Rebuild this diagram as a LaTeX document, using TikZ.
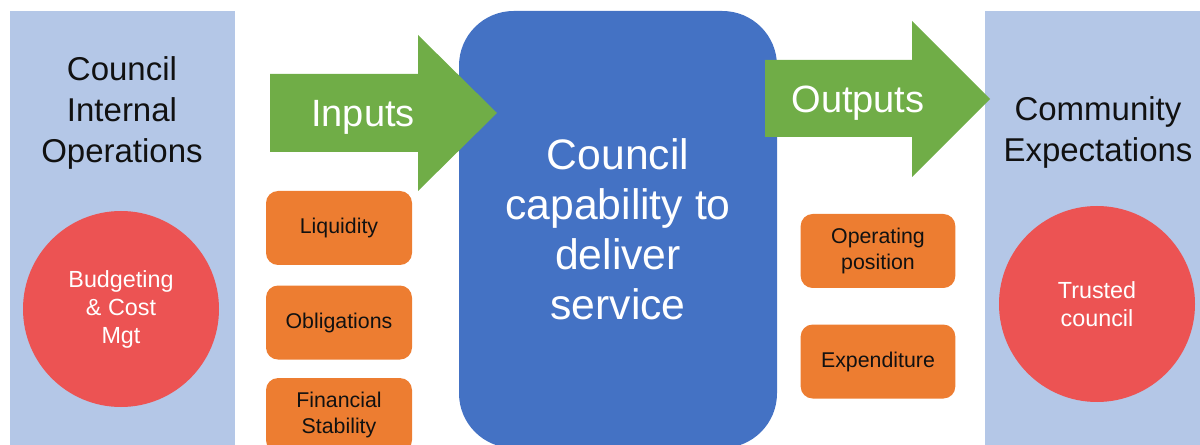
\documentclass[tikz,border=0pt]{standalone}
\usepackage{fontspec}
\setmainfont{Liberation Sans}
\usepackage{xcolor}
\usetikzlibrary{positioning}
\definecolor{panelblue}{HTML}{B4C7E7}
\definecolor{corefill}{HTML}{4472C4}
\definecolor{goalred}{HTML}{EC5353}
\definecolor{measureorange}{HTML}{ED7D31}
\definecolor{arrowgreen}{HTML}{70AD47}
\definecolor{textdark}{HTML}{111111}
\tikzstyle{panel} = [fill=panelblue]
\tikzstyle{heading} = [align=center,
	text=textdark,
	font=\fontsize{24.75}{30.75}\selectfont
	]
\tikzstyle{goal} = [circle, fill=goalred,
	minimum size=147pt,
	text=white, align=center,
	font=\fontsize{17.5}{21}\selectfont
	]
\tikzstyle{measure} = [rectangle, fill=measureorange,
	rounded corners=9pt,
	minimum width=109.5pt,
	minimum height=55.5pt,
	text=textdark, align=center,
	font=\fontsize{16}{19.5}\selectfont
	]
\tikzstyle{core} = [rectangle, fill=corefill,
	rounded corners=41pt,
	minimum width=238.5pt,
	minimum height=327.75pt,
	text=white, align=center,
	font=\fontsize{32}{37.5}\selectfont
	]
\tikzstyle{pfeil} = [fill=arrowgreen]
\tikzstyle{pfeiltext} = [text=white, font=\fontsize{28.5}{34}\selectfont]

\begin{document}
\begin{tikzpicture}[x=0.75pt, y=-0.75pt]
    \useasboundingbox (0,0) rectangle (1200,445);
    \begin{scope}
    \clip (0,0) rectangle (1200,445);

    % side panels
    \fill [panel] (10,11) rectangle (235,450);
    \fill [panel] (985,11) rectangle (1200,450);
    \node [heading] (internal) at (122,113) {Council\\Internal\\Operations};
    \node [heading] (community) at (1098,132) {Community\\Expectations};
    \node [goal] (budget) at (121,309) {Budgeting\\\& Cost\\Mgt};
    \node [goal] (trusted) at (1097,304) {Trusted\\council};

    % centre
    \node [core] (capability) at (618,229.5)
    	{Council\\capability to\\deliver\\service};

    % measures
    \node [measure] (liquidity) at (339,228) {Liquidity};
    \node [measure, below=15pt of liquidity] (obligations) {Obligations};
    \node [measure, below=13.5pt of obligations] (stability) {Financial\\Stability};
    \node [measure, minimum width=116pt] (operating) at (878,251) {Operating\\position};
    \node [measure, minimum width=116pt, below=27pt of operating] (expenditure) {Expenditure};

    % arrows
    \fill [pfeil] (270,74) -- (418,74) -- (418,35) -- (497,113)
    	-- (418,191) -- (418,152) -- (270,152) -- cycle;
    \node [pfeiltext] (inputs) at (363,117) {Inputs};
    \fill [pfeil] (765,60) -- (912,60) -- (912,21) -- (990,99)
    	-- (912,177) -- (912,137) -- (765,137) -- cycle;
    \node [pfeiltext] (outputs) at (858,103) {Outputs};
    \end{scope}
\end{tikzpicture}
\end{document}
